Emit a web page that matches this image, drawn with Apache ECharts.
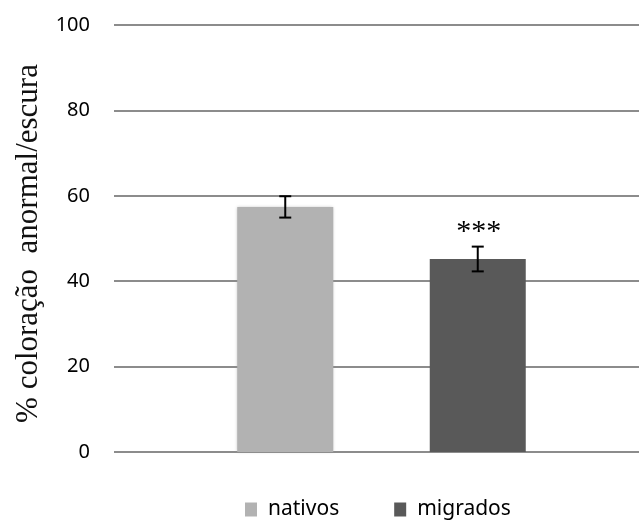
<!DOCTYPE html>
<html>
<head>
<meta charset="utf-8">
<script src="https://cdn.jsdelivr.net/npm/echarts@6/dist/echarts.min.js"></script>
<style>html,body{margin:0;padding:0;background:#fff}#c{width:639px;height:523px}</style>
</head>
<body>
<div id="c"></div>
<script>
// Groups, mean values and error (± half-range) per group
const categories = ['nativos', 'migrados'];
const means = [57.4, 45.2];
const errors = [2.5, 2.9];
const significance = ['', '***'];
const barColors = ['#b2b2b2', '#595959'];
const yTicks = [0, 20, 40, 60, 80, 100];

const chart = echarts.init(document.getElementById('c'));

const barSeries = categories.map((name, i) => ({
  name: name,
  type: 'bar',
  xAxisIndex: 1,
  yAxisIndex: 1,
  barGap: '-100%',
  barWidth: 96,
  itemStyle: i === 0
    ? { color: barColors[i], shadowBlur: 3, shadowColor: 'rgba(150,150,150,0.7)' }
    : { color: barColors[i] },
  data: categories.map((c, j) => (j === i ? means[j] : '-'))
}));

const errorSeries = {
  type: 'custom',
  xAxisIndex: 1,
  yAxisIndex: 1,
  z: 10,
  data: categories.map((c, i) => [i, means[i] - errors[i], means[i] + errors[i], significance[i]]),
  renderItem: function (params, api) {
    const lo = api.coord([api.value(0), api.value(1)]);
    const hi = api.coord([api.value(0), api.value(2)]);
    const x = lo[0], half = 6;
    const style = { stroke: '#000', lineWidth: 2 };
    const children = [
      { type: 'line', shape: { x1: x, y1: hi[1], x2: x, y2: lo[1] }, style: style },
      { type: 'line', shape: { x1: x - half, y1: hi[1], x2: x + half, y2: hi[1] }, style: style },
      { type: 'line', shape: { x1: x - half, y1: lo[1], x2: x + half, y2: lo[1] }, style: style }
    ];
    const mark = significance[params.dataIndex];
    if (mark) {
      children.push({
        type: 'text',
        style: {
          text: mark, x: x + 1, y: hi[1] - 29,
          align: 'center', verticalAlign: 'top',
          font: '30px "Liberation Serif", serif', fill: '#000'
        }
      });
    }
    return { type: 'group', children: children };
  }
};

chart.setOption({
  animation: false,
  backgroundColor: '#fff',
  grid: [
    { left: 114, right: 0, top: 25, bottom: 71 },
    { left: 189, width: 385, top: 25, bottom: 71 }
  ],
  xAxis: [
    { gridIndex: 0, type: 'category', data: categories, show: false },
    { gridIndex: 1, type: 'category', data: categories, show: false }
  ],
  yAxis: [
    {
      gridIndex: 0, type: 'value', min: yTicks[0], max: yTicks[yTicks.length - 1], interval: 20,
      axisLine: { show: false }, axisTick: { show: false },
      axisLabel: { margin: 24, color: '#000', fontSize: 20, fontFamily: '"Noto Sans", sans-serif', padding: [5, 0, 0, 0] },
      splitLine: { lineStyle: { color: '#8c8c8c', width: 2 } },
      name: '% coloração  anormal/escura',
      nameLocation: 'middle', nameGap: 70, nameRotate: 90,
      nameTextStyle: { color: '#111', fontSize: 31, fontFamily: '"Liberation Serif", serif', padding: [0, 10, 0, 0] }
    },
    { gridIndex: 1, type: 'value', min: 0, max: 100, show: false, splitLine: { show: false } }
  ],
  legend: {
    left: 240, top: 494,
    itemWidth: 12, itemHeight: 14, itemGap: 55,
    icon: 'rect',
    data: categories,
    textStyle: { color: '#000', fontSize: 21, fontFamily: '"Noto Sans", sans-serif', padding: [0, 0, 0, 6] }
  },
  series: barSeries.concat([errorSeries])
});
</script>
</body>
</html>
